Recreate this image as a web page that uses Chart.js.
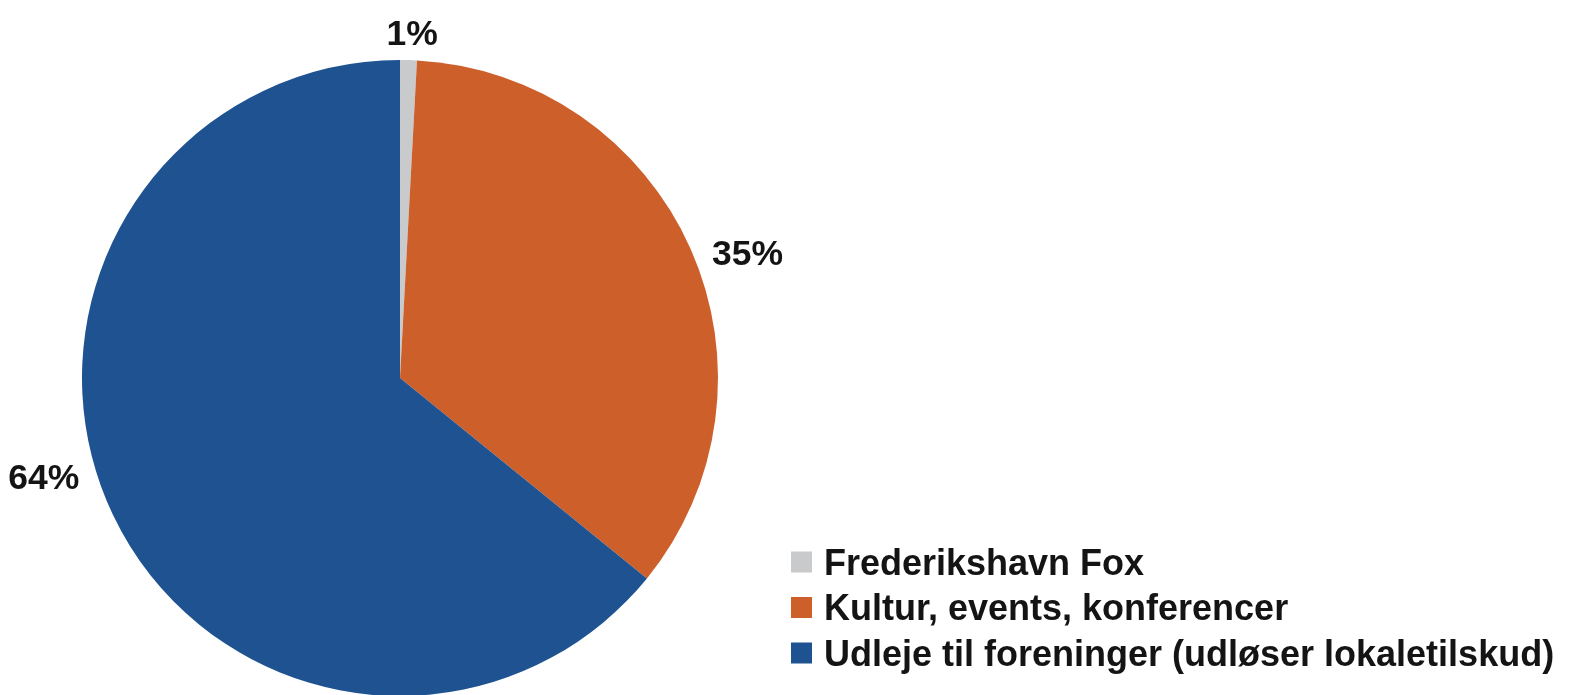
<!DOCTYPE html>
<html>
<head>
<meta charset="utf-8">
<script src="https://cdn.jsdelivr.net/npm/chart.js@4"></script>
<style>
  body { margin: 0; background: #fff; }
  #wrap { width: 1571px; height: 695px; position: relative; }
</style>
</head>
<body>
<div id="wrap"><canvas id="pieChart" width="1571" height="695"></canvas></div>
<script>
// data
let categories = ['Frederikshavn Fox', 'Kultur, events, konferencer', 'Udleje til foreninger (udløser lokaletilskud)'];
let shares = [0.85, 35.0, 64.15];
let colors = ['#c9cacc', '#cd5f2b', '#1f5290'];

const FONT = '"Liberation Sans", Arial, sans-serif';

// percentage labels outside each slice
const outsideLabels = {
    id: 'outsideLabels',
    afterDatasetsDraw(chart, args, opts) {
        const ctx = chart.ctx;
        const meta = chart.getDatasetMeta(0);
        const total = shares.reduce((a, b) => a + b, 0);
        ctx.save();
        ctx.font = 'bold ' + opts.size + 'px ' + FONT;
        ctx.fillStyle = opts.color;
        ctx.textAlign = 'center';
        ctx.textBaseline = 'alphabetic';
        meta.data.forEach((arc, i) => {
            const txt = Math.round(shares[i] / total * 100) + '%';
            const shift = (opts.shift[i] || 0) * Math.PI / 180;
            const ang = (arc.startAngle + arc.endAngle) / 2 + shift;
            const dx = Math.cos(ang), dy = Math.sin(ang);
            const w = ctx.measureText(txt).width;
            const h = opts.size * 0.72;
            const ext = Math.abs(dx) * w / 2 + Math.abs(dy) * h / 2;
            const d = arc.outerRadius + opts.gap + ext;
            const cx = arc.x + dx * d, cy = arc.y + dy * d;
            ctx.fillText(txt, cx, cy + h / 2);
        });
        ctx.restore();
    }
};

// legend bottom right
const sideLegend = {
    id: 'sideLegend',
    afterDraw(chart, args, opts) {
        const ctx = chart.ctx;
        const ds = chart.data.datasets[0];
        ctx.save();
        ctx.font = 'bold ' + opts.size + 'px ' + FONT;
        ctx.textBaseline = 'alphabetic';
        ctx.textAlign = 'left';
        chart.data.labels.forEach((lab, i) => {
            const y = opts.y + i * opts.rowGap;
            ctx.fillStyle = ds.backgroundColor[i];
            ctx.fillRect(opts.x, y - opts.box / 2, opts.box, opts.box);
            ctx.fillStyle = opts.color;
            ctx.fillText(lab, opts.x + opts.box + opts.textGap, y + opts.size * 0.72 / 2);
        });
        ctx.restore();
    }
};

var ctx = document.getElementById('pieChart').getContext('2d');
var myChart = new Chart(ctx, {
    type: 'pie',
    data: {
        labels: categories,
        datasets: [{
            data: shares,
            backgroundColor: colors,
            borderWidth: 0,
            hoverOffset: 0
        }]
    },
    options: {
        responsive: false,
        animation: false,
        radius: 318,
        layout: {
            padding: { left: 0, right: 771, top: 61, bottom: 0 }
        },
        plugins: {
            legend: { display: false },
            tooltip: { enabled: false },
            outsideLabels: { size: 35.5, color: '#141414', gap: 14, shift: [0.5, 4, 10] },
            sideLegend: { x: 791, y: 562, rowGap: 45.5, box: 21, textGap: 12, size: 36, color: '#141414' }
        }
    },
    plugins: [outsideLabels, sideLegend]
});
</script>
</body>
</html>
